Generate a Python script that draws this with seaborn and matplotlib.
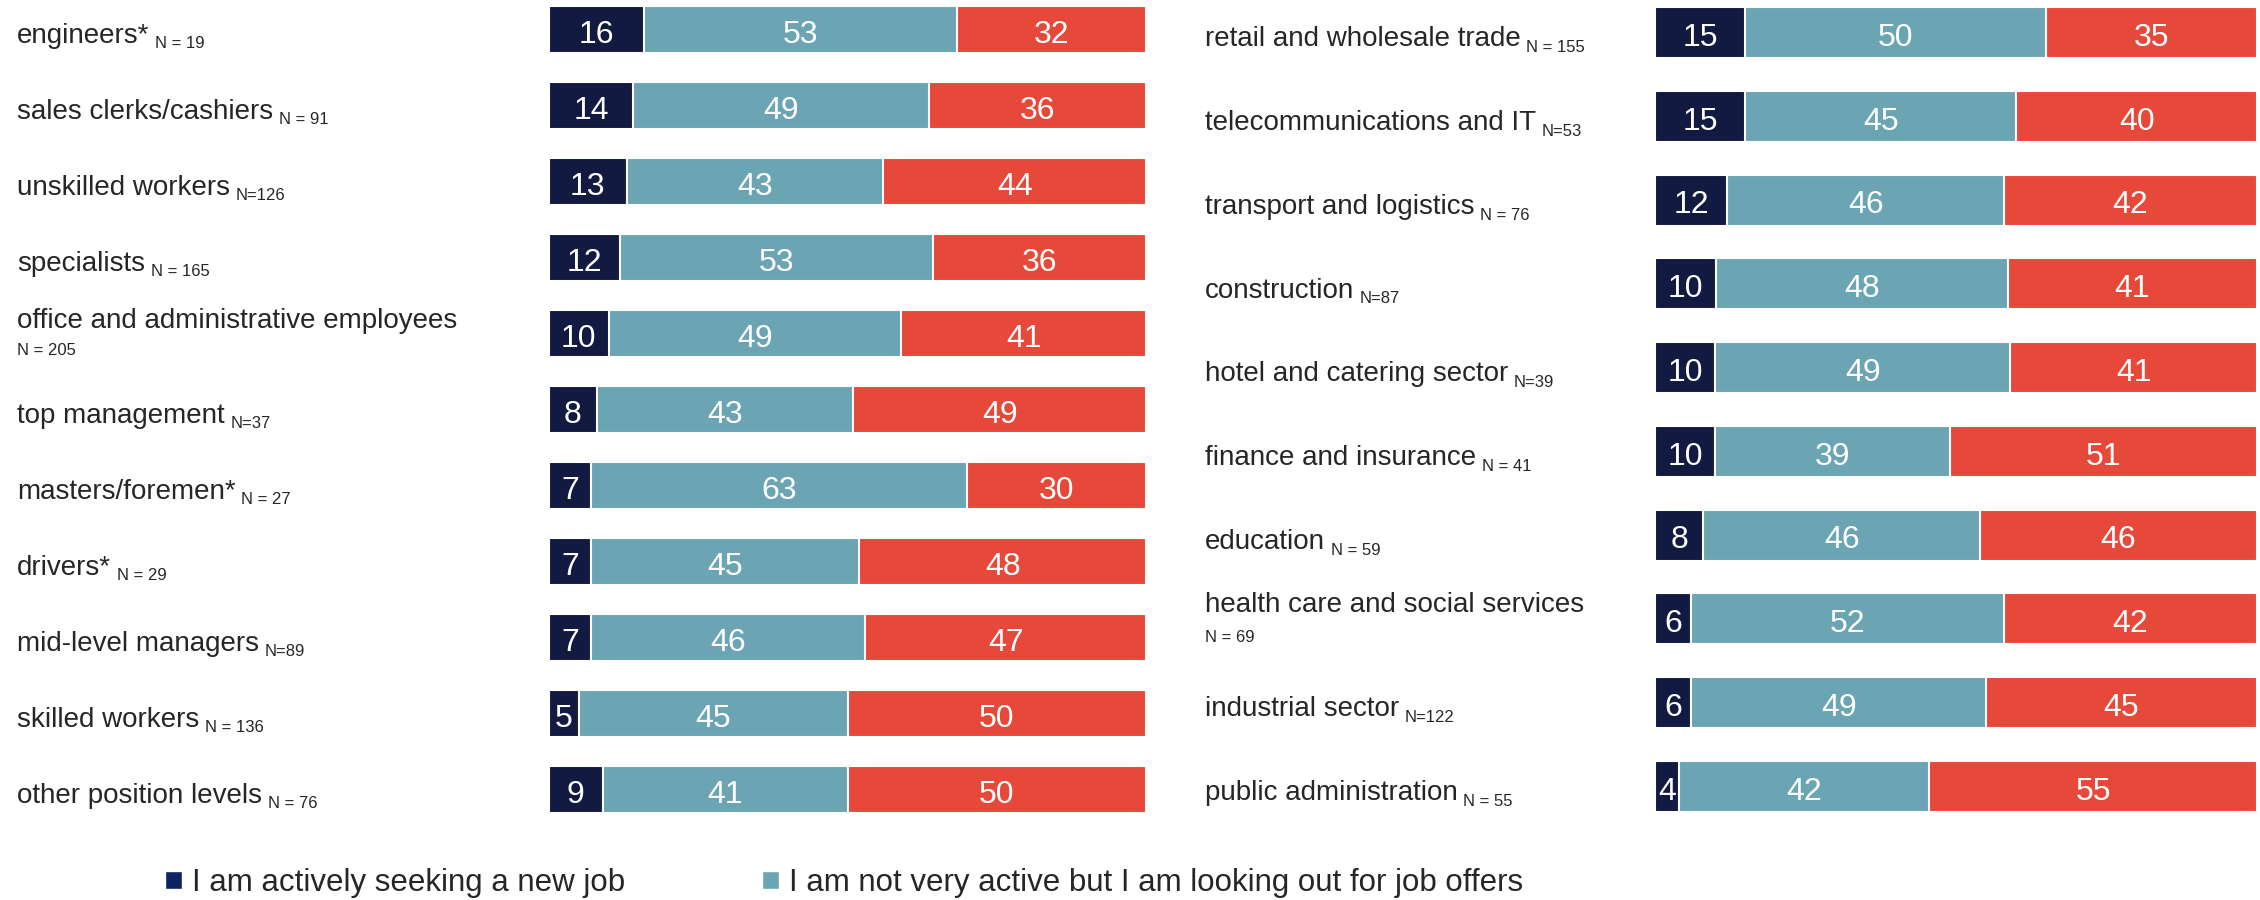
import numpy as np
import pandas as pd
import seaborn as sns
import matplotlib.pyplot as plt
from matplotlib.patches import Patch
from matplotlib.transforms import blended_transform_factory

# left panel: position levels
pos_labels = ['engineers*', 'sales clerks/cashiers', 'unskilled workers', 'specialists',
              'office and administrative employees', 'top management', 'masters/foremen*',
              'drivers*', 'mid-level managers', 'skilled workers', 'other position levels']
pos_n = ['N = 19', 'N = 91', 'N=126', 'N = 165', 'N = 205', 'N=37', 'N = 27',
         'N = 29', 'N=89', 'N = 136', 'N = 76']
pos_active = [16, 14, 13, 12, 10, 8, 7, 7, 7, 5, 9]
pos_looking = [53, 49, 43, 53, 49, 43, 63, 45, 46, 45, 41]
pos_not = [32, 36, 44, 36, 41, 49, 30, 48, 47, 50, 50]

# right panel: sectors
sec_labels = ['retail and wholesale trade', 'telecommunications and IT', 'transport and logistics',
              'construction', 'hotel and catering sector', 'finance and insurance', 'education',
              'health care and social services', 'industrial sector', 'public administration']
sec_n = ['N = 155', 'N=53', 'N = 76', 'N=87', 'N=39', 'N = 41', 'N = 59', 'N = 69', 'N=122', 'N = 55']
sec_active = [15, 15, 12, 10, 10, 10, 8, 6, 6, 4]
sec_looking = [50, 45, 46, 48, 49, 39, 46, 52, 49, 42]
sec_not = [35, 40, 42, 41, 41, 51, 46, 42, 45, 55]

legend_labels = ['I am actively seeking a new job',
                 'I am not very active but I am looking out for job offers']

NAVY = '#121a42'
NAVY_LEG = '#0d2461'
TEAL = '#6ba5b3'
RED = '#e64839'

sns.set_theme(style='white')
plt.rcParams['font.family'] = ['Liberation Sans', 'DejaVu Sans']

fig = plt.figure(figsize=(22.6, 9), dpi=100)


def panel(rect, label_x, labels, ns, a, b, c):
    ax = fig.add_axes(rect)
    a, b, c = np.array(a), np.array(b), np.array(c)
    tot = a + b + c
    # scale so every bar fills the row, like the original
    s1 = a / tot * 100
    s2 = (a + b) / tot * 100
    s3 = np.full(len(a), 100.0)
    for vals, col in [(s3, RED), (s2, TEAL), (s1, NAVY)]:
        sns.barplot(x=vals, y=labels, orient='h', color=col, saturation=1,
                    width=0.61, edgecolor='white', linewidth=1.5, ax=ax)
    for i in range(len(labels)):
        mids = [s1[i] / 2, (s1[i] + s2[i]) / 2, (s2[i] + 100) / 2]
        for m, v in zip(mids, [a[i], b[i], c[i]]):
            ax.text(m, i + 0.02, str(v), color='white', ha='center', va='center_baseline',
                    fontsize=23)
    ax.set_xlim(0, 100)
    ax.set_ylim(len(labels) - 1 + 0.4, -0.4)
    ax.axis('off')

    tr = blended_transform_factory(fig.transFigure, ax.transData)
    for i, (lab, n) in enumerate(zip(labels, ns)):
        if len(lab) > 30:
            ax.text(label_x, i - 0.16, lab, transform=tr, ha='left', va='center', fontsize=20)
            ax.text(label_x, i + 0.22, n, transform=tr, ha='left', va='center', fontsize=12)
        else:
            t = ax.text(label_x, i + 0.08, lab, transform=tr, ha='left', va='center', fontsize=20)
            ax.annotate(n, xy=(1, 0), xycoords=t, xytext=(4, -2), textcoords='offset points',
                        ha='left', va='bottom', fontsize=12)
    return ax


panel([549 / 2260, 0.089, 597 / 2260, 0.912], 17 / 2260,
      pos_labels, pos_n, pos_active, pos_looking, pos_not)
panel([1655 / 2260, 0.089, 602 / 2260, 0.912], 1205 / 2260,
      sec_labels, sec_n, sec_active, sec_looking, sec_not)

handles = [Patch(facecolor=NAVY_LEG), Patch(facecolor=TEAL)]
fig.legend(handles, legend_labels, loc='center left', bbox_to_anchor=(165 / 2260, 1 - 883 / 900),
           ncol=2, frameon=False, fontsize=22.5, handlelength=0.55, handleheight=0.55,
           handletextpad=0.3, columnspacing=4.4, borderpad=0, borderaxespad=0)

fig.savefig('out.png', dpi=100, facecolor='white')
